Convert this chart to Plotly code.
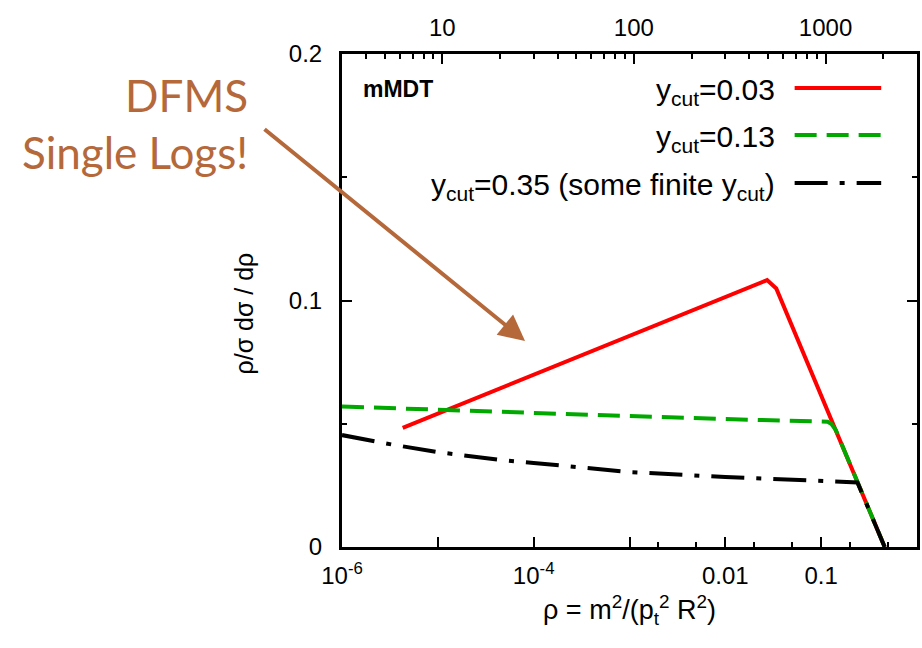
import math
import plotly.graph_objects as go

# ---------------- data ----------------
rho_red = [4.3e-6, 0.0273, 0.034, 0.46]
val_red = [0.0483, 0.1083, 0.1049, 0.0]

rho_green = [1e-6, 1e-5, 1e-4, 1e-3, 1e-2, 0.06, 0.117, 0.128, 0.142, 0.46]
val_green = [0.0570, 0.0556, 0.0544, 0.0531, 0.0519, 0.0511, 0.0508, 0.0499, 0.0475, 0.0]

rho_black = [1e-6, 3.5e-6, 1e-5, 4.5e-5, 1e-4, 7.3e-4, 1e-3, 1e-2, 0.057, 0.239, 0.46]
val_black = [0.0454, 0.0414, 0.0385, 0.0353, 0.0341, 0.0310, 0.0304, 0.0284, 0.0270, 0.0262, 0.0]

series_names = ["y<sub>cut</sub>=0.03", "y<sub>cut</sub>=0.13",
                "y<sub>cut</sub>=0.35 (some finite y<sub>cut</sub>)"]

x_tickvals = [1e-6, 1e-5, 1e-4, 1e-3, 1e-2, 1e-1, 1]
x_ticktext = ["10<sup>-6</sup>", "", "10<sup>-4</sup>", "", "0.01", "0.1", "1"]
x_minor = [2e-3, 5e-3, 2e-2, 5e-2, 2e-1, 5e-1]

y_tickvals = [0, 0.1, 0.2]
y_ticktext = ["0", "0.1", "0.2"]
y_minor = [0.05, 0.15]

PT_R = 3000.0  # m = pt*R*sqrt(rho) for the top axis
m_tickvals = [10, 100, 1000]
m_minor = [4, 5, 6, 7, 8, 9, 20, 30, 40, 50, 60, 70, 80, 90,
           200, 300, 400, 500, 600, 700, 800, 900, 2000, 3000]

rho_range = [1e-6, 1.0]

# ---------------- styles ----------------
RED = "#ff0000"
GREEN = "#00a800"
BLACK = "#000000"
BROWN = "#b5683a"
GREEN_DASH = "22px,10px"
BLACK_DASH = "33px,12px,5px,12px"
FONT = "Liberation Sans, Arial, Helvetica, sans-serif"
TICK_SIZE = 24
TEXT_SIZE = 30

fig = go.Figure()
fig.add_trace(go.Scatter(x=rho_red, y=val_red, mode="lines",
                         line=dict(color=RED, width=4), name=series_names[0]))
fig.add_trace(go.Scatter(x=rho_green, y=val_green, mode="lines",
                         line=dict(color=GREEN, width=4, dash=GREEN_DASH),
                         name=series_names[1]))
fig.add_trace(go.Scatter(x=rho_black, y=val_black, mode="lines",
                         line=dict(color=BLACK, width=4, dash=BLACK_DASH),
                         name=series_names[2]))
# invisible carrier trace so that the top (mass) axis is drawn
m_range = [PT_R * math.sqrt(r) for r in rho_range]
fig.add_trace(go.Scatter(x=m_range, y=[0, 0], xaxis="x2", yaxis="y",
                         mode="lines", opacity=0, line=dict(width=0),
                         showlegend=False, hoverinfo="skip"))

L, R, T, B = 342, 2, 54, 101
W, H = 922, 648
pw, ph = W - L - R, H - T - B


def px_x(xp):
    return (xp - L) / pw


def px_y(yp):
    return (H - B - yp) / ph


fig.update_layout(
    width=W, height=H,
    margin=dict(l=L, r=R, t=T, b=B, pad=0),
    paper_bgcolor="white", plot_bgcolor="white",
    showlegend=False,
    font=dict(family=FONT, size=TICK_SIZE, color="black"),
    hovermode=False,
    xaxis=dict(
        type="log", range=[math.log10(rho_range[0]), math.log10(rho_range[1])],
        showgrid=False, zeroline=False,
        showline=True, linewidth=3, linecolor="black", mirror=True,
        ticks="inside", ticklen=10, tickwidth=2, tickcolor="black",
        tickmode="array", tickvals=x_tickvals, ticktext=x_ticktext,
        tickfont=dict(size=TICK_SIZE),
        ticklabelstandoff=5,
        minor=dict(tickmode="array", tickvals=x_minor, ticks="inside",
                   ticklen=5, tickwidth=2, tickcolor="black", showgrid=False),
    ),
    xaxis2=dict(
        type="log", overlaying="x", side="top", anchor="y",
        range=[math.log10(m_range[0]), math.log10(m_range[1])],
        showgrid=False, zeroline=False, showline=False,
        ticks="inside", ticklen=10, tickwidth=2, tickcolor="black",
        tickmode="array", tickvals=m_tickvals,
        ticktext=[str(v) for v in m_tickvals],
        tickfont=dict(size=TICK_SIZE),
        ticklabelstandoff=12,
        minor=dict(tickmode="array", tickvals=m_minor, ticks="inside",
                   ticklen=5, tickwidth=2, tickcolor="black", showgrid=False),
    ),
    yaxis=dict(
        range=[0, 0.2], showgrid=False, zeroline=False,
        showline=True, linewidth=3, linecolor="black", mirror="ticks",
        ticks="inside", ticklen=10, tickwidth=2, tickcolor="black",
        tickmode="array", tickvals=y_tickvals, ticktext=y_ticktext,
        tickfont=dict(size=TICK_SIZE),
        ticklabelstandoff=12,
        minor=dict(tickmode="array", tickvals=y_minor, ticks="inside",
                   ticklen=5, tickwidth=2, tickcolor="black", showgrid=False),
    ),
)

annotations = []
# axis titles
annotations.append(dict(
    text="ρ = m<sup>2</sup>/(p<sub>t</sub><sup>2</sup> R<sup>2</sup>)",
    xref="paper", yref="paper", x=px_x(631), y=px_y(610),
    xanchor="center", yanchor="middle", showarrow=False,
    font=dict(size=27)))
annotations.append(dict(
    text="ρ/σ dσ / dρ", textangle=-90,
    xref="paper", yref="paper", x=px_x(243), y=px_y(314),
    xanchor="center", yanchor="middle", showarrow=False,
    font=dict(size=25)))
# mMDT label
annotations.append(dict(
    text="<b>mMDT</b>", xref="paper", yref="paper", x=px_x(361), y=px_y(89),
    xanchor="left", yanchor="middle", showarrow=False, font=dict(size=23)))

# legend (gnuplot style: text right, sample to the right)
leg_rows = [88, 135, 183]
leg_colors = [RED, GREEN, BLACK]
leg_dash = ["solid", GREEN_DASH, BLACK_DASH]
shapes = []
for name, yrow, col, dsh in zip(series_names, leg_rows, leg_colors, leg_dash):
    annotations.append(dict(
        text=name, xref="paper", yref="paper", x=px_x(779), y=px_y(yrow + 3),
        xanchor="right", yanchor="middle", showarrow=False,
        font=dict(size=TEXT_SIZE)))
    shapes.append(dict(type="line", xref="paper", yref="paper",
                       x0=px_x(797), x1=px_x(884), y0=px_y(yrow), y1=px_y(yrow),
                       line=dict(color=col, width=4, dash=dsh)))

# DFMS call-out
annotations.append(dict(
    text="DFMS<br>Single Logs!", xref="paper", yref="paper",
    x=px_x(250), y=px_y(124), xanchor="right", yanchor="middle",
    align="right", showarrow=False,
    font=dict(family="Lato, Open Sans, sans-serif", size=44, color=BROWN)))
annotations.append(dict(
    text="", xref="paper", yref="paper", x=px_x(526), y=px_y(341),
    ax=264 - 526, ay=128 - 341, axref="pixel", ayref="pixel",
    showarrow=True, arrowhead=2, arrowsize=1.3, arrowwidth=4,
    arrowcolor=BROWN))

fig.update_layout(annotations=annotations, shapes=shapes)

fig.write_html("out.html")
